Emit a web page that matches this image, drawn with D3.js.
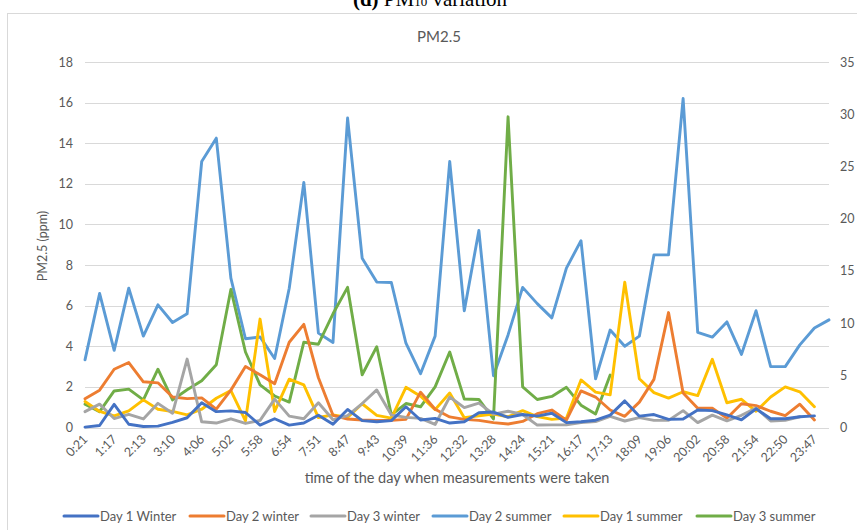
<!DOCTYPE html>
<html>
<head>
<meta charset="utf-8">
<script src="https://cdn.jsdelivr.net/npm/d3@7"></script>
<style>
    body { margin: 0; background: #fff; }
    svg { display: block; }
</style>
</head>
<body>
<svg id="chart" width="857" height="530"></svg>
<script>
    'use strict';

    var times = ['0:21', '0:49', '1:17', '1:45', '2:13', '2:41', '3:10', '3:38', '4:06', '4:34',
        '5:02', '5:30', '5:58', '6:26', '6:54', '7:22', '7:51', '8:19', '8:47', '9:15',
        '9:43', '10:11', '10:39', '11:07', '11:36', '12:04', '12:32', '13:00', '13:28', '13:56',
        '14:24', '14:52', '15:21', '15:49', '16:17', '16:45', '17:13', '17:41', '18:09', '18:37',
        '19:06', '19:34', '20:02', '20:30', '20:58', '21:26', '21:54', '22:22', '22:50', '23:18',
        '23:47', '0:15'];

    var day1Winter = [0.02, 0.1, 1.14, 0.16, 0.05, 0.07, 0.25, 0.48, 1.22, 0.78,
        0.82, 0.74, 0.12, 0.43, 0.12, 0.22, 0.6, 0.16, 0.89, 0.34,
        0.28, 0.34, 1.02, 0.37, 0.45, 0.22, 0.28, 0.73, 0.76, 0.5,
        0.64, 0.56, 0.7, 0.24, 0.28, 0.36, 0.61, 1.31, 0.56, 0.64,
        0.4, 0.42, 0.86, 0.83, 0.62, 0.38, 0.92, 0.43, 0.43, 0.53,
        0.57, null];
    var day2Winter = [1.42, 1.84, 2.87, 3.2, 2.25, 2.2, 1.5, 1.42, 1.46, 0.9,
        1.84, 3.0, 2.6, 2.15, 4.2, 5.08, 2.45, 0.6, 0.42, 0.37,
        0.35, 0.35, 0.4, 1.74, 0.9, 0.52, 0.4, 0.35, 0.24, 0.17,
        0.3, 0.68, 0.86, 0.36, 1.8, 1.5, 0.86, 0.55, 1.25, 2.37,
        5.66, 1.7, 0.95, 0.95, 0.46, 1.17, 1.08, 0.8, 0.58, 1.15,
        0.37, null];
    var day3Winter = [0.78, 1.15, 0.44, 0.65, 0.42, 1.19, 0.7, 3.37, 0.28, 0.22,
        0.43, 0.2, 0.35, 1.4, 0.56, 0.43, 1.22, 0.38, 0.58, 1.18,
        1.85, 0.62, 0.5, 0.45, 0.15, 1.5, 0.98, 1.2, 0.66, 0.8,
        0.64, 0.12, 0.13, 0.13, 0.24, 0.29, 0.55, 0.32, 0.49, 0.35,
        0.35, 0.83, 0.24, 0.61, 0.33, 0.6, 0.96, 0.32, 0.35, 0.53,
        null, null];
    var day2Summer = [3.33, 6.6, 3.8, 6.86, 4.5, 6.04, 5.17, 5.6, 13.1, 14.25,
        7.36, 4.37, 4.46, 3.4, 6.86, 12.07, 4.65, 4.19, 15.24, 8.34,
        7.16, 7.14, 4.15, 2.65, 4.5, 13.1, 5.75, 9.7, 2.55, 4.56,
        6.9, 6.1, 5.4, 7.85, 9.2, 2.4, 4.8, 4.0, 4.5, 8.5,
        8.5, 16.2, 4.68, 4.45, 5.2, 3.6, 5.75, 3.0, 3.0, 4.07,
        4.9, 5.3];
    var day1Summer = [1.28, 0.79, 0.57, 0.82, 1.36, 0.9, 0.79, 0.62, 0.9, 1.44,
        1.82, 0.33, 5.34, 0.79, 2.38, 2.1, 0.49, 0.62, 0.5, 1.17,
        0.6, 0.46, 1.98, 1.54, 0.88, 1.7, 0.48, 0.58, 0.66, 0.53,
        0.83, 0.54, 0.4, 0.46, 2.34, 1.74, 1.61, 7.16, 2.4, 1.72,
        1.45, 1.76, 1.57, 3.36, 1.22, 1.39, 0.8, 1.5, 2.0, 1.76,
        1.02, null];
    var day3Summer = [1.15, 0.78, 1.8, 1.89, 1.36, 2.87, 1.36, 1.86, 2.3, 3.09,
        6.8, 3.72, 2.1, 1.55, 1.25, 4.2, 4.1, 5.6, 6.9, 2.6,
        3.98, 0.62, 1.18, 1.02, 2.0, 3.72, 1.4, 1.38, 0.42, 15.3,
        2.0, 1.38, 1.53, 1.98, 1.1, 0.66, 2.58, null, null, null,
        null, null, null, null, null, null, null, null, null, null,
        null, null];

    var leftTicks = [0, 2, 4, 6, 8, 10, 12, 14, 16, 18];
    var rightTicks = [0, 5, 10, 15, 20, 25, 30, 35];

    var seriesNames = ['Day 1 Winter', 'Day 2 winter', 'Day 3 winter', 'Day 2 summer', 'Day 1 summer', 'Day 3 summer'];
    var seriesValues = [day1Winter, day2Winter, day3Winter, day2Summer, day1Summer, day3Summer];
    var seriesColors = ['#4472C4', '#ED7D31', '#A5A5A5', '#5B9BD5', '#FFC000', '#70AD47'];
    // draw order: summer lines under the winter ones like the original
    var drawOrder = [3, 5, 4, 1, 2, 0];

    var TEXT_COLOR = '#595959';
    var GRID_COLOR = '#D9D9D9';
    var FONT = 'Lato, "Open Sans", sans-serif';

    var svg = d3.select('#chart');

    var x = d3.scalePoint().domain(d3.range(times.length)).range([85, 829]);
    var y = d3.scaleLinear().domain([0, 18]).range([427.5, 62]);
    var yRight = d3.scaleLinear().domain([0, 35]).range([427.5, 62]);

    function renderFrame() {
        // caption of the figure above, cut off by the page edge in the original too
        var cap = svg.append('text')
            .attr('x', 430)
            .attr('y', 6)
            .attr('text-anchor', 'middle')
            .attr('font-family', '"Liberation Serif", serif')
            .attr('font-size', 21)
            .attr('fill', '#000');
        cap.append('tspan').attr('font-weight', 'bold').text('(d)');
        cap.append('tspan').text(' PM');
        cap.append('tspan').attr('font-size', 13).text('10');
        cap.append('tspan').text(' variation');

        svg.append('rect')
            .attr('x', 7.5)
            .attr('y', 13.5)
            .attr('width', 860)
            .attr('height', 530)
            .attr('fill', 'none')
            .attr('stroke', GRID_COLOR)
            .attr('stroke-width', 1);

        svg.append('text')
            .attr('x', 439)
            .attr('y', 42)
            .attr('text-anchor', 'middle')
            .attr('font-family', FONT)
            .attr('font-size', 15)
            .attr('fill', TEXT_COLOR)
            .text('PM2.5');
    }

    function renderAxes() {
        var grid = svg.append('g');
        grid.selectAll('line').data(leftTicks).enter()
            .append('line')
            .attr('x1', 85)
            .attr('x2', 829)
            .attr('y1', function (d) { return Math.round(y(d)) + 0.5; })
            .attr('y2', function (d) { return Math.round(y(d)) + 0.5; })
            .attr('stroke', GRID_COLOR)
            .attr('stroke-width', 1);

        var leftAxis = svg.append('g')
            .attr('transform', 'translate(73,0)')
            .call(d3.axisLeft(y).tickValues(leftTicks).tickSize(0).tickPadding(0));
        leftAxis.select('.domain').remove();
        leftAxis.selectAll('text')
            .attr('font-family', FONT)
            .attr('font-size', 12.5)
            .attr('fill', TEXT_COLOR);

        var rightAxis = svg.append('g')
            .attr('transform', 'translate(840,0)')
            .call(d3.axisRight(yRight).tickValues(rightTicks).tickSize(0).tickPadding(0));
        rightAxis.select('.domain').remove();
        rightAxis.selectAll('text')
            .attr('font-family', FONT)
            .attr('font-size', 12.5)
            .attr('fill', TEXT_COLOR);

        var labelIdx = d3.range(0, times.length, 2);
        var bottomAxis = svg.append('g')
            .attr('transform', 'translate(0,428)')
            .call(d3.axisBottom(x).tickValues(labelIdx).tickFormat(function (i) { return times[i]; })
                .tickSize(0).tickPadding(0));
        bottomAxis.select('.domain').remove();
        bottomAxis.selectAll('text')
            .attr('font-family', FONT)
            .attr('font-size', 12.5)
            .attr('fill', TEXT_COLOR)
            .attr('text-anchor', 'end')
            .attr('dy', null)
            .attr('y', 0)
            .attr('transform', 'translate(3,12) rotate(-45)');

        svg.append('text')
            .attr('transform', 'translate(47,246) rotate(-90)')
            .attr('text-anchor', 'middle')
            .attr('font-family', FONT)
            .attr('font-size', 12.5)
            .attr('fill', TEXT_COLOR)
            .text('PM2.5 (ppm)');

        svg.append('text')
            .attr('x', 457)
            .attr('y', 483)
            .attr('text-anchor', 'middle')
            .attr('font-family', FONT)
            .attr('font-size', 14.5)
            .attr('fill', TEXT_COLOR)
            .text('time of the day when measurements were taken');
    }

    function renderLines() {
        var line = d3.line()
            .defined(function (d) { return d !== null; })
            .x(function (d, i) { return x(i); })
            .y(function (d) { return y(d); });

        var linesGroup = svg.append('g');
        drawOrder.forEach(function (k) {
            linesGroup.append('path')
                .attr('d', line(seriesValues[k]))
                .attr('fill', 'none')
                .attr('stroke', seriesColors[k])
                .attr('stroke-width', 2.9)
                .attr('stroke-linejoin', 'round')
                .attr('stroke-linecap', 'round');
        });
    }

    function renderLegend() {
        var legendX = [64, 190, 311, 433, 564, 697];
        var legend = svg.append('g');
        var items = legend.selectAll('g').data(seriesNames).enter()
            .append('g')
            .attr('transform', function (d, i) { return 'translate(' + legendX[i] + ',516)'; });
        items.append('line')
            .attr('x1', 0)
            .attr('x2', 34)
            .attr('y1', 0)
            .attr('y2', 0)
            .attr('stroke', function (d, i) { return seriesColors[i]; })
            .attr('stroke-width', 3)
            .attr('stroke-linecap', 'round');
        items.append('text')
            .attr('x', 36)
            .attr('y', 4.5)
            .attr('font-family', FONT)
            .attr('font-size', 13)
            .attr('fill', TEXT_COLOR)
            .text(function (d) { return d; });
    }

    renderFrame();
    renderAxes();
    renderLines();
    renderLegend();
</script>
</body>
</html>
